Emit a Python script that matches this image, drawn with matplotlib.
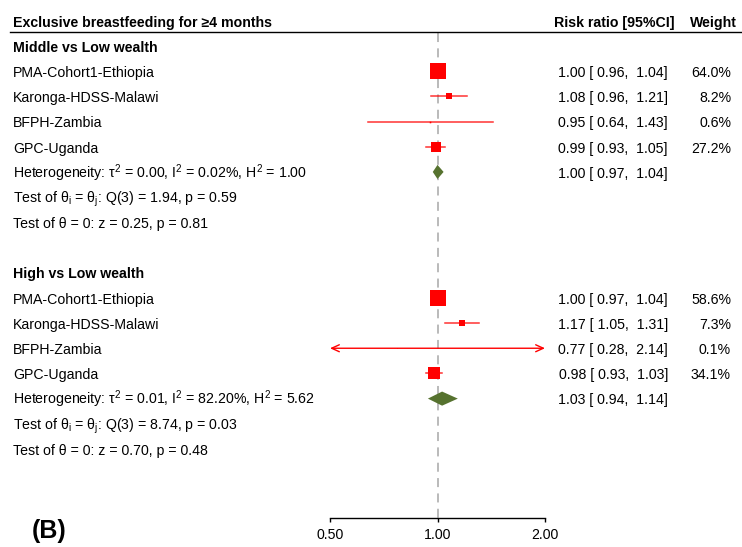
import numpy as np
import matplotlib
matplotlib.use("Agg")
import matplotlib.pyplot as plt
from matplotlib import transforms
from matplotlib.lines import Line2D

plt.rcParams['font.family'] = ['Liberation Sans', 'DejaVu Sans']
plt.rcParams['mathtext.fontset'] = 'custom'
plt.rcParams['mathtext.rm'] = 'Liberation Sans'
plt.rcParams['mathtext.it'] = 'Liberation Sans'
plt.rcParams['mathtext.default'] = 'regular'

studies = ["PMA-Cohort1-Ethiopia", "Karonga-HDSS-Malawi", "BFPH-Zambia", "GPC-Uganda"]

# Middle vs Low wealth
mid_rr = [1.00, 1.08, 0.95, 0.99]
mid_lo = [0.96, 0.96, 0.64, 0.93]
mid_hi = [1.04, 1.21, 1.43, 1.05]
mid_w = [64.0, 8.2, 0.6, 27.2]
mid_pool = [1.00, 0.97, 1.04]
mid_het = [0.00, 0.02, 1.00]      # tau2, I2, H2
mid_q = [3, 1.94, 0.59]           # df, Q, p
mid_z = [0.25, 0.81]              # z, p

# High vs Low wealth
high_rr = [1.00, 1.17, 0.77, 0.98]
high_lo = [0.97, 1.05, 0.28, 0.93]
high_hi = [1.04, 1.31, 2.14, 1.03]
high_w = [58.6, 7.3, 0.1, 34.1]
high_pool = [1.03, 0.94, 1.14]
high_het = [0.01, 82.20, 5.62]
high_q = [3, 8.74, 0.03]
high_z = [0.70, 0.48]

groups = [
    ("Middle vs Low wealth", mid_rr, mid_lo, mid_hi, mid_w, mid_pool, mid_het, mid_q, mid_z),
    ("High vs Low wealth", high_rr, high_lo, high_hi, high_w, high_pool, high_het, high_q, high_z),
]

xticks = [0.5, 1.0, 2.0]
xmin, xmax = 0.5, 2.0

W, H = 742, 547
fig = plt.figure(figsize=(W / 100, H / 100), dpi=100)
ax = fig.add_axes([330 / W, (H - 518) / H, (545 - 330) / W, (518 - 10) / H])
ax.set_xscale('log')
ax.set_xlim(xmin, xmax)
ax.set_ylim(18.74, -1.43)

for s in ['left', 'right', 'top']:
    ax.spines[s].set_visible(False)
ax.spines['bottom'].set_linewidth(1.0)
ax.set_yticks([])
ax.set_xticks(xticks)
ax.set_xticklabels([f"{t:.2f}" for t in xticks], fontsize=10.2)
ax.minorticks_off()
ax.tick_params(axis='x', direction='out', length=3, width=1.0, pad=4)

# reference line at 1
ax.plot([1, 1], [-0.5, 18.74], color='#b4b4b4', lw=1.3, ls=(0, (5, 3.5)), zorder=1, clip_on=False)

trans = transforms.blended_transform_factory(fig.transFigure, ax.transData)
fs = 10.2
red = '#ff0000'
green = '#56722f'
base = 0.23  # baseline offset below the row centre


def label(x, y, s, ha='left', bold=False):
    ax.text(x / W, y + base, s, transform=trans, fontsize=fs, ha=ha, va='baseline',
            fontweight='bold' if bold else 'normal')


# header
label(13, -0.99, "Exclusive breastfeeding for \u22654 months", bold=True)
label(675, -0.99, "Risk ratio [95%CI]", ha='right', bold=True)
label(737, -0.99, "Weight", ha='right', bold=True)
fig.add_artist(Line2D([10 / W, 1.0], [(H - 32) / H, (H - 32) / H], color='black', lw=1.0))

row = 0
for name, rr, lo, hi, w, pool, het, q, z in groups:
    label(13, row, name, bold=True)
    row += 1
    for i in range(len(studies)):
        label(13, row, studies[i])
        label(668, row, f"{rr[i]:.2f} [ {lo[i]:.2f},  {hi[i]:.2f}]", ha='right')
        label(731, row, f"{w[i]:.1f}%", ha='right')
        a, b = max(lo[i], xmin), min(hi[i], xmax)
        if lo[i] < xmin or hi[i] > xmax:
            style = ('<' if lo[i] < xmin else '') + '-' + ('>' if hi[i] > xmax else '')
            ax.annotate("", xy=(b, row), xytext=(a, row), annotation_clip=False,
                        arrowprops=dict(arrowstyle=style + ',head_length=0.55,head_width=0.25',
                                        color=red, lw=1.0, shrinkA=0, shrinkB=0))
        else:
            ax.plot([a, b], [row, row], color=red, lw=1.1, alpha=0.8, zorder=2)
        ax.plot(rr[i], row, marker='s', ms=1.47 * np.sqrt(w[i]), color=red, mew=0,
                zorder=3, clip_on=False)
        row += 1

    # pooled estimate
    label(13, row,
          f"Heterogeneity: \u03c4$^{{2}}$ = {het[0]:.2f}, I$^{{2}}$ = {het[1]:.2f}%, H$^{{2}}$ = {het[2]:.2f}")
    label(668, row, f"{pool[0]:.2f} [ {pool[1]:.2f},  {pool[2]:.2f}]", ha='right')
    hh = 0.28
    ax.fill([pool[1], pool[0], pool[2], pool[0]], [row, row - hh, row, row + hh],
            color=green, lw=0, zorder=3)
    row += 1
    label(13, row, f"Test of \u03b8$_{{i}}$ = \u03b8$_{{j}}$: Q({q[0]}) = {q[1]:.2f}, p = {q[2]:.2f}")
    row += 1
    label(13, row, f"Test of \u03b8 = 0: z = {z[0]:.2f}, p = {z[1]:.2f}")
    row += 2

fig.text(32 / W, (H - 531) / H, "(B)", fontsize=18, fontweight='bold',
         ha='left', va='center')

fig.savefig("out.png", dpi=100)
